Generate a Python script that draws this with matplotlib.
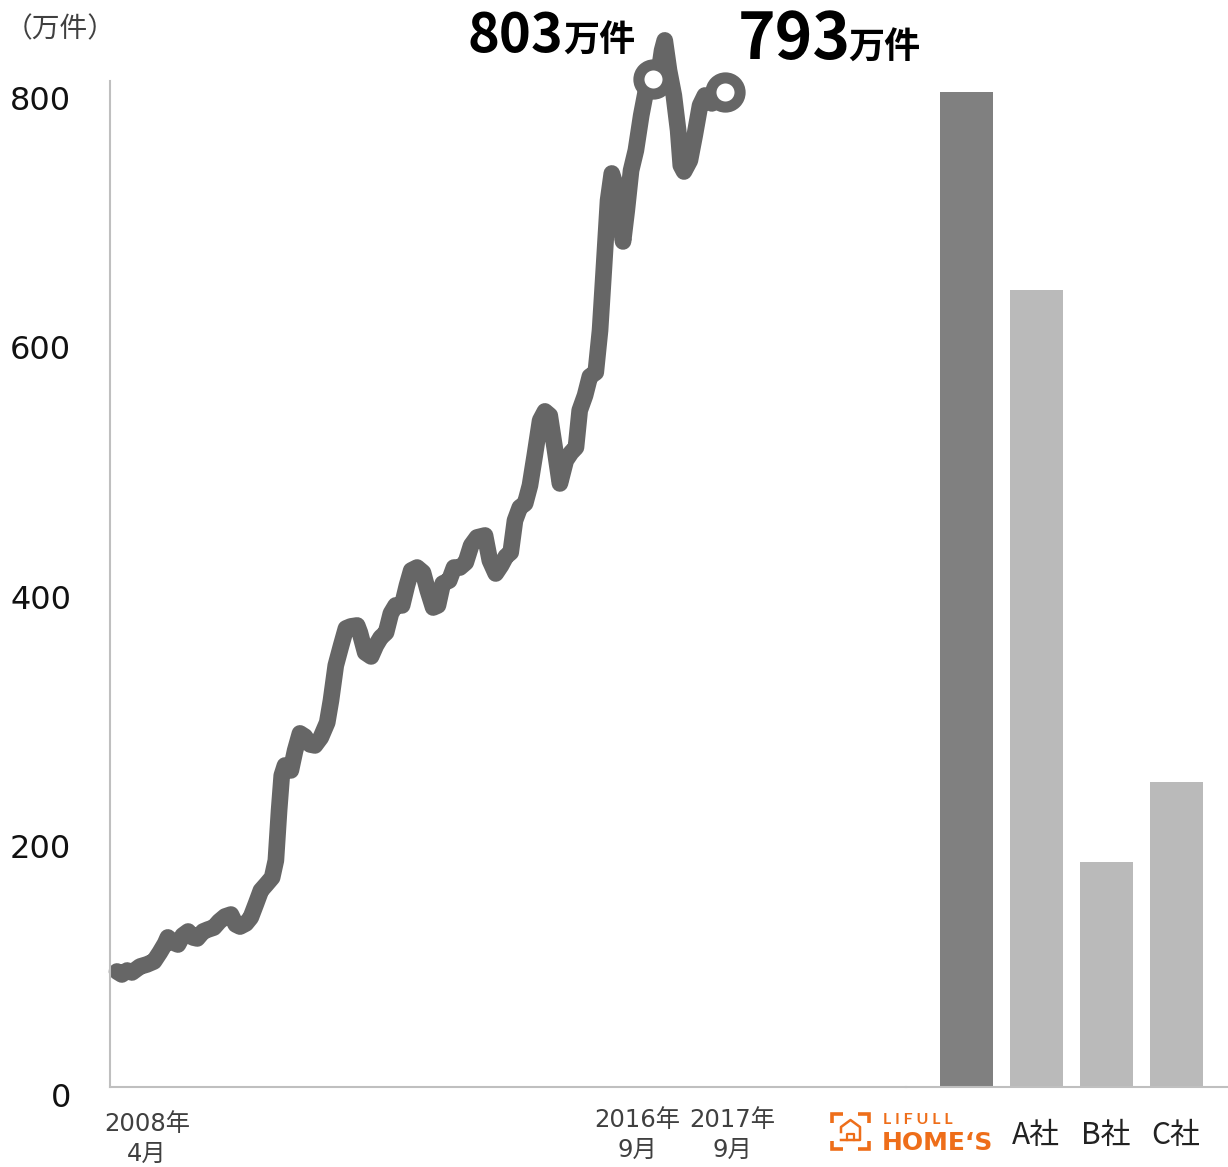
#!/usr/bin/env python3
"""Listing count over time, with a bar comparison against other sites"""

import matplotlib

matplotlib.use("Agg")
import matplotlib.pyplot as plt

line_months = [
    0, 0.9, 1.9, 2.8, 4.3, 5.6, 6.9, 8.0, 9.0, 9.5, 10.5, 11.4, 12.3, 13.3, 14.2, 15.0,
    16.1, 17.0, 18.1, 19.1, 20.2, 21.3, 22.2, 23.0, 24.1, 25.0, 26.0, 26.9, 27.9, 29.0,
    29.7, 30.3, 30.8, 31.4, 32.5, 33.3, 34.2, 35.1, 36.1, 37.0, 38.1, 39.3, 40.0, 40.9,
    41.9, 42.8, 43.7, 44.9, 45.4, 46.4, 47.5, 48.4, 49.3, 50.3, 51.2, 52.1, 53.3, 54.2,
    55.0, 56.1, 57.2, 58.1, 59.1, 60.0, 60.9, 62.1, 63.0, 64.1, 65.2, 66.2, 67.3, 68.8,
    69.7, 70.8, 71.8, 72.7, 73.6, 74.4, 75.3, 76.3, 77.2, 78.1, 79.1, 80.0, 80.9, 81.9,
    82.8, 83.9, 84.9, 85.8, 86.5, 87.5, 88.4, 89.5, 90.3, 91.0, 91.8, 92.5, 93.5, 94.6,
    95.3, 96.1, 97.0, 98.0, 98.9, 100.2, 101.3, 101.9, 102.4, 103.2, 104.1, 104.9, 105.4,
    106.0, 107.1, 108.0, 109.0, 109.9, 111.2, 112.3, 113.6,
]
line_values = [
    92.9, 90.5, 93.7, 92.1, 96.9, 98.6, 101, 108.2, 115.5, 120.4, 116.3, 114.7, 122, 125.2,
    120.4, 119.6, 125.2, 126.8, 128.4, 133.3, 137.3, 138.9, 130.9, 129.2, 131.7, 136.5,
    147.8, 158.3, 163.2, 168.8, 182.6, 223, 251.2, 259.3, 255.3, 271.4, 285.2, 282.7, 276.3,
    275.5, 281.9, 294, 311.8, 340.1, 356.2, 370, 371.6, 372.4, 366.7, 350.6, 347.4, 356.2,
    362.7, 366.7, 382.1, 388.6, 388.6, 404.7, 416.8, 419.2, 415.2, 400.7, 386.9, 388.6,
    406.3, 408.7, 419.2, 419.2, 423.3, 437, 443.5, 445.1, 424.9, 414.4, 420.9, 428.1, 431.4,
    457.2, 467.7, 470.9, 485.5, 509.7, 538, 545.3, 542, 513.8, 487.1, 505.7, 512.1, 516.2,
    546.1, 558.2, 573.5, 576.8, 610.7, 659.2, 715.7, 737.5, 723.8, 682.6, 707.6, 739.9,
    756.1, 784.4, 804.6, 813.5, 819.1, 836.9, 845, 820.7, 800.5, 772.3, 744, 739.1, 748,
    768.2, 792.5, 800.5, 794.1, 803, 803,
]
marked_months = [100.2, 113.6]

bar_values = [803, 643, 181, 246]
bar_labels = ["", "A社", "B社", "C社"]
bar_colors = ["#808080", "#BABABA", "#BABABA", "#BABABA"]

value_ticks = [800, 600, 400, 200, 0]
date_labels = [("2008年\n4月", 147, 1139), ("2016年\n9月", 637, 1135), ("2017年\n9月", 732, 1135)]

CJK = ["Noto Sans CJK JP", "DejaVu Sans"]
LATIN_FIRST = ["DejaVu Sans", "Noto Sans CJK JP"]
LINE_GREY = "#666666"
AXIS_GREY = "#BFBFBF"
ORANGE = "#EE6E1A"
W, H = 1228, 1167
Y_MAX = 812.6


def axes_at(left, right):
    ax = fig.add_axes([left / W, (H - 1086.5) / H, (right - left) / W, 1006 / H])
    ax.set_ylim(0, Y_MAX)
    ax.set_xticks([])
    ax.set_yticks([])
    ax.patch.set_alpha(0)
    for side in ["top", "right", "left"]:
        ax.spines[side].set_visible(False)
    ax.spines["bottom"].set_color(AXIS_GREY)
    ax.spines["bottom"].set_linewidth(1.5)
    return ax


fig = plt.figure(figsize=(W / 100, H / 100), dpi=100)

# line panel
ax = axes_at(110, 906)
ax.set_xlim(-1.308, 147.5)
ax.spines["left"].set_visible(True)
ax.spines["left"].set_color(AXIS_GREY)
ax.spines["left"].set_linewidth(1.5)
ax.plot(
    line_months,
    line_values,
    color=LINE_GREY,
    linewidth=12,
    solid_capstyle="round",
    solid_joinstyle="round",
    clip_on=False,
)
marked = [line_months.index(m) for m in marked_months]
ax.plot(
    [line_months[i] for i in marked],
    [line_values[i] for i in marked],
    linestyle="none",
    marker="o",
    markersize=21,
    markerfacecolor="white",
    markeredgecolor=LINE_GREY,
    markeredgewidth=8,
    clip_on=False,
    zorder=5,
)

# bar panel
ax_bar = axes_at(906, 1228)
ax_bar.set_xlim(-0.871, 3.729)
ax_bar.bar(range(len(bar_values)), bar_values, width=0.757, color=bar_colors)

# text and logo, in pixel coordinates
over = fig.add_axes([0, 0, 1, 1])
over.set_xlim(0, W)
over.set_ylim(H, 0)
over.axis("off")

for v in value_ticks:
    over.text(71, 101.5 + (800 - v) * 1.2465, str(v), ha="right", va="center",
              fontsize=23, color="#111111", family="DejaVu Sans")
over.text(60, 29, "（万件）", ha="center", va="center", fontsize=20, color="#404040", family=CJK)

for label, x, y in date_labels:
    over.text(x, y, label, ha="center", va="center", fontsize=17.5, color="#404040",
              family=LATIN_FIRST, linespacing=1.3)

for i, label in enumerate(bar_labels):
    over.text(1036 + (i - 1) * 70, 1135, label, ha="center", va="center", fontsize=21.5,
              color="#222222", family=CJK)

over.text(468, 52, "803", ha="left", va="baseline", fontsize=39, fontweight="bold", family=CJK, color="black")
over.text(563, 52, "万件", ha="left", va="baseline", fontsize=26, fontweight="bold", family=CJK, color="black")
over.text(738, 59, "793", ha="left", va="baseline", fontsize=46, fontweight="bold", family=CJK, color="black")
over.text(848, 59, "万件", ha="left", va="baseline", fontsize=26, fontweight="bold", family=CJK, color="black")

# logo: corner brackets, house outline, wordmark
for xs, ys in [
    ([832, 832, 843], [1123, 1114, 1114]),
    ([858, 869, 869], [1114, 1114, 1123]),
    ([832, 832, 843], [1141, 1149, 1149]),
    ([858, 869, 869], [1149, 1149, 1141]),
]:
    over.plot(xs, ys, color=ORANGE, linewidth=2.6, solid_capstyle="butt", solid_joinstyle="miter")
over.plot([841, 841, 850.5, 860, 860, 841], [1132, 1127, 1120, 1127, 1140, 1140],
          color=ORANGE, linewidth=1.8, solid_joinstyle="round")
over.plot([847, 847, 854, 854], [1140, 1134, 1134, 1140], color=ORANGE, linewidth=1.6)
over.text(883, 1124, "L I F U L L", ha="left", va="baseline", fontsize=11.5, fontweight="bold",
          color=ORANGE, family="Lato")
over.text(882, 1150, "HOME‘S", ha="left", va="baseline", fontsize=18, fontweight="bold",
          color=ORANGE, family="DejaVu Sans")

fig.savefig("out.png", dpi=100)
